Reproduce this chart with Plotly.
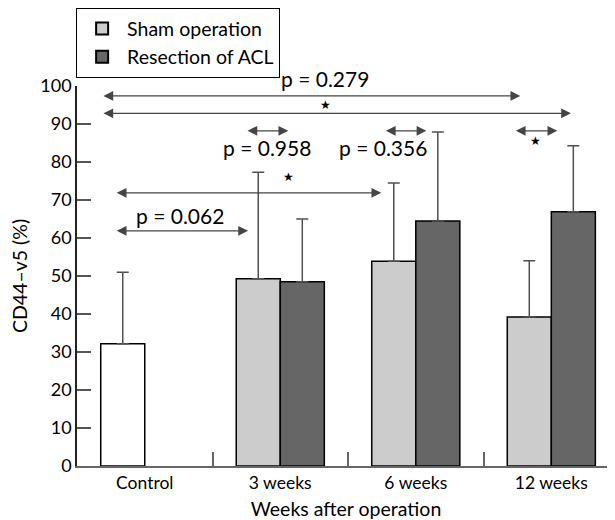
import plotly.graph_objects as go

categories = ["Control", "3 weeks", "6 weeks", "12 weeks"]
control_mean = [32.2]
control_sd = [18.8]
sham_mean = [49.3, 53.9, 39.2]
sham_sd = [28.0, 20.6, 14.8]
acl_mean = [48.5, 64.5, 66.9]
acl_sd = [16.5, 23.4, 17.4]

# comparisons: (from category index, to category index, y level)
cmp_from = [-0.316, -0.316, 0.747, 1.768, 2.727, -0.218, -0.218]
cmp_to = [2.771, 3.145, 1.059, 2.078, 3.044, 1.745, 0.762]
cmp_y = [97.4, 92.8, 88.2, 88.2, 88.2, 71.9, 61.9]
# labels: text, x (category index), y (value scale)
lab_text = ["p = 0.279", "\u2605", "p = 0.958", "p = 0.356", "\u2605", "\u2605", "p = 0.062"]
lab_x = [1.332, 1.337, 0.902, 1.760, 2.887, 1.06, 0.262]
lab_y = [102.1, 95.0, 83.7, 83.7, 85.6, 76.0, 66.0]

Y_MAX = 100
FONT = "Lato"
fig = go.Figure()

err = dict(type="data", symmetric=False, color="#505050", thickness=1.5, width=6)

fig.add_trace(go.Bar(
    x=categories[:1], y=control_mean, offsetgroup="a", showlegend=False,
    marker=dict(color="white", line=dict(color="black", width=1.5)),
    error_y=dict(err, array=control_sd, arrayminus=[0] * len(control_sd)),
))
fig.add_trace(go.Bar(
    x=categories[1:], y=sham_mean, offsetgroup="a", name="Sham operation",
    marker=dict(color="#cccccc", line=dict(color="black", width=1.5)),
    error_y=dict(err, array=sham_sd, arrayminus=[0] * len(sham_sd)),
))
fig.add_trace(go.Bar(
    x=categories[1:], y=acl_mean, offsetgroup="b", name="Resection of ACL",
    marker=dict(color="#666666", line=dict(color="black", width=1.5)),
    error_y=dict(err, array=acl_sd, arrayminus=[0] * len(acl_sd)),
))

annotations = []
for x0, x1, y in zip(cmp_from, cmp_to, cmp_y):
    annotations.append(dict(
        x=x1, y=y, ax=x0, ay=y, xref="x", yref="y", axref="x", ayref="y",
        text="", showarrow=True, arrowside="end+start", arrowhead=2,
        arrowsize=1.5, arrowwidth=1.3, arrowcolor="#454545",
    ))
for t, x, y in zip(lab_text, lab_x, lab_y):
    star = t == "\u2605"
    outside = y > Y_MAX
    annotations.append(dict(
        x=x, y=(y / Y_MAX) if outside else y, xref="x", yref="paper" if outside else "y",
        text=t, showarrow=False, xanchor="center", yanchor="middle",
        font=dict(family="DejaVu Sans" if star else FONT, size=12 if star else 21, color="black"),
    ))

fig.update_layout(
    width=607, height=512,
    margin=dict(l=69, r=0, t=78, b=54),
    paper_bgcolor="white", plot_bgcolor="white",
    barmode="group", bargap=0.35, bargroupgap=0,
    font=dict(family=FONT, size=17, color="black"),
    annotations=annotations,
    showlegend=True,
    legend=dict(
        x=-0.002, y=1.205, xanchor="left", yanchor="top",
        bordercolor="black", borderwidth=1.2, bgcolor="white",
        font=dict(family=FONT, size=19.5, color="black"),
        tracegroupgap=0, itemsizing="constant", itemwidth=40,
    ),
    xaxis=dict(
        type="category", range=[-0.5, 3.47], automargin=False,
        showline=True, linecolor="#666666", linewidth=1.5,
        ticks="inside", tickson="boundaries", ticklen=14, tickcolor="#666666", tickwidth=1.5,
        showgrid=False, zeroline=False,
        tickfont=dict(family=FONT, size=17.5),
        title=dict(text="Weeks after operation", font=dict(family=FONT, size=19.5), standoff=18),
    ),
    yaxis=dict(
        range=[0, Y_MAX], dtick=10, automargin=False,
        showline=True, linecolor="#222222", linewidth=1.5,
        ticks="inside", ticklen=14, tickcolor="#555555", tickwidth=1.5,
        showgrid=False, zeroline=False,
        tickfont=dict(family=FONT, size=18),
        title=dict(text="CD44\u2013v5 (%)", font=dict(family=FONT, size=19.5), standoff=8),
    ),
)

fig.write_html("out.html")
